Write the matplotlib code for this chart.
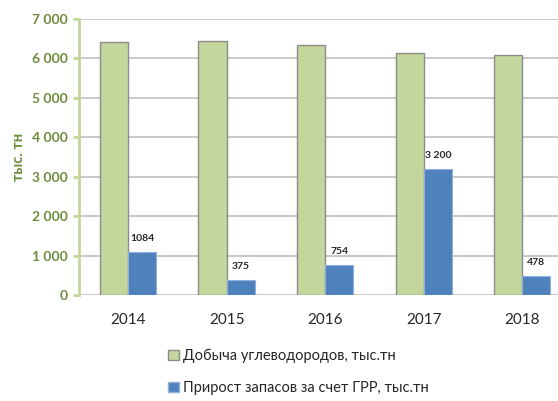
import matplotlib.pyplot as plt
from matplotlib.patches import Patch
from matplotlib.ticker import FuncFormatter

plt.rcParams['font.family'] = ['Lato', 'DejaVu Sans']

years = ['2014', '2015', '2016', '2017', '2018']
production = [6420, 6440, 6340, 6130, 6090]
reserves = [1084, 375, 754, 3200, 478]
reserve_labels = ['1084', '375', '754', '3 200', '478']

green = '#C3D69B'
blue = '#4F81BD'
olive = '#6E8B3D'

fig = plt.figure(figsize=(5.58, 4.01), dpi=100)
ax = fig.add_axes([0.141, 0.2643, 0.8835, 0.6883])

x = range(len(years))
w = 0.285
ax.bar([i - w / 2 for i in x], production, w, color=green, edgecolor='#8C8C8C', linewidth=1.0, zorder=3)
ax.bar([i + w / 2 for i in x], reserves, w, color=blue, edgecolor='#8FB0D8', linewidth=0.8, zorder=3)

for i, (v, t) in enumerate(zip(reserves, reserve_labels)):
    ax.text(i + w / 2, v + 230, t, ha='center', va='bottom', fontsize=7.5, fontweight='bold', color='#262626')

ax.set_xlim(-0.5, 4.5)
ax.set_ylim(0, 7000)
ax.set_yticks(range(0, 7001, 1000))
ax.yaxis.set_major_formatter(FuncFormatter(lambda v, p: f'{int(v):,}'.replace(',', ' ')))
ax.set_xticks(list(x))
ax.set_xticklabels(years, fontsize=11, color='#262626')
ax.tick_params(axis='x', length=0, pad=13)
ax.tick_params(axis='y', length=4, width=2, color=green, labelcolor=olive, labelsize=10, pad=4)
for lbl in ax.get_yticklabels():
    lbl.set_fontweight('bold')

ax.grid(axis='y', color='#BFBFBF', linewidth=1.2, zorder=0)
for s in ['top', 'right', 'bottom']:
    ax.spines[s].set_visible(False)
ax.spines['left'].set_color(green)
ax.spines['left'].set_linewidth(2)

ax.set_ylabel('тыс. тн', fontsize=10.5, fontweight='bold', color=olive, labelpad=4)

handles = [Patch(facecolor=green, edgecolor='#8C8C8C', label='Добыча углеводородов, тыс.тн'),
           Patch(facecolor=blue, edgecolor='#8FB0D8', label='Прирост запасов за счет ГРР, тыс.тн')]
fig.legend(handles=handles, loc='upper left', bbox_to_anchor=(0.29, 0.145), frameon=False,
           fontsize=10.5, handlelength=0.75, handleheight=0.75, handletextpad=0.3,
           labelspacing=1.25, labelcolor='#262626', borderaxespad=0)

fig.savefig('out.png', dpi=100)
